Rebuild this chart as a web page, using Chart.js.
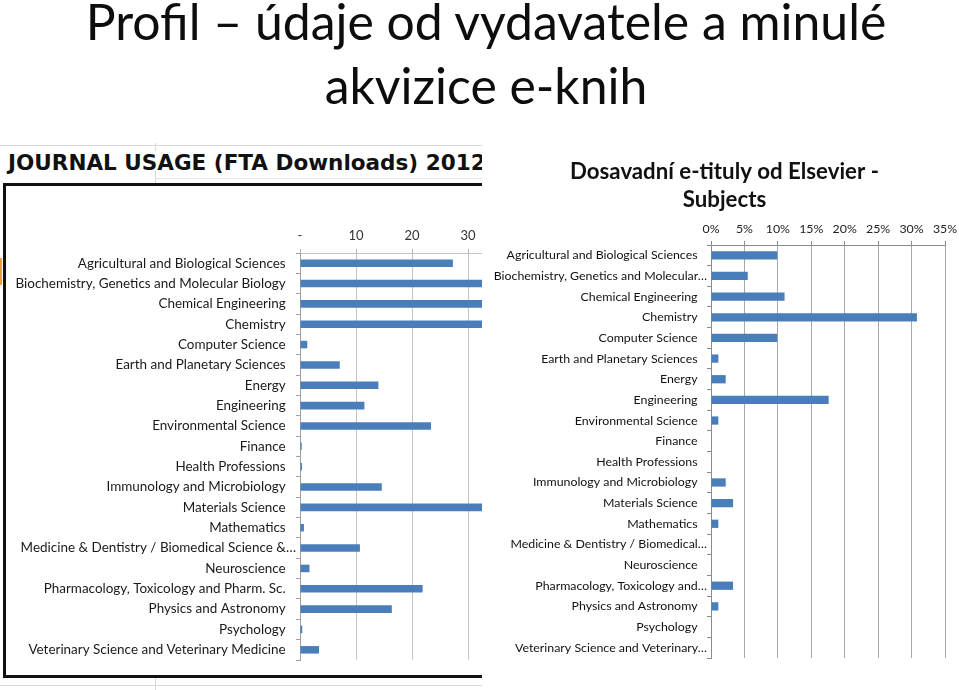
<!DOCTYPE html>
<html>
<head>
<meta charset="utf-8">
<script src="https://cdn.jsdelivr.net/npm/chart.js@4.4.1/dist/chart.umd.min.js"></script>
<style>
html, body { margin: 0; padding: 0; background: #fff; width: 959px; height: 690px; overflow: hidden; }
#slide { position: relative; width: 959px; height: 690px; overflow: hidden; }
#heading { position: absolute; left: 0; top: 0; }
#sheet { position: absolute; left: 0; top: 143px; width: 482px; height: 547px; overflow: hidden; background: #fff; }
.cell { position: absolute; background: #d9d9d9; }
#frame { position: absolute; left: 3px; top: 40px; width: 720px; height: 495px; border: 3px solid #111; box-sizing: border-box; }
#usage { position: absolute; left: 6px; top: 43px; }
#subjects { position: absolute; left: 462px; top: 150px; }
</style>
</head>
<body>
<div id="slide">
  <svg id="heading" width="959" height="120">
    <text id="h1" x="486" y="40" text-anchor="middle" font-family="Lato" fill="#0d0d0d">Profil – údaje od vydavatele a minulé</text>
    <text id="h2" x="486" y="104" text-anchor="middle" font-family="Lato" fill="#0d0d0d">akvizice e-knih</text>
  </svg>

  <div id="sheet">
    <div class="cell" style="left:0;top:2px;width:482px;height:1px"></div>
    <div class="cell" style="left:155px;top:0;width:1px;height:8px"></div>
    <div class="cell" style="left:155px;top:35px;width:327px;height:1px;background:#e6e6e6"></div>
    <div class="cell" style="left:155px;top:28px;width:1px;height:12px"></div>
    <div class="cell" style="left:0;top:542px;width:482px;height:1px"></div>
    <div class="cell" style="left:155px;top:535px;width:1px;height:12px"></div>
    <div class="cell" style="left:0;top:115px;width:2px;height:27px;background:#f0a030"></div>
    <svg style="position:absolute;left:0;top:0" width="482" height="40">
      <text id="usageTitle" x="8" y="27" font-family="DejaVu Sans" font-weight="bold" fill="#111">JOURNAL USAGE (FTA Downloads) 2012</text>
    </svg>
    <div id="frame"></div>
    <canvas id="usage" width="706" height="489"></canvas>
  </div>

  <canvas id="subjects" width="497" height="540"></canvas>
</div>

<script>
"use strict";

// categories as shown in the journal usage chart (left, screenshot)
var journalLabels = [
    "Agricultural and Biological Sciences",
    "Biochemistry, Genetics and Molecular Biology",
    "Chemical Engineering",
    "Chemistry",
    "Computer Science",
    "Earth and Planetary Sciences",
    "Energy",
    "Engineering",
    "Environmental Science",
    "Finance",
    "Health Professions",
    "Immunology and Microbiology",
    "Materials Science",
    "Mathematics",
    "Medicine & Dentistry / Biomedical Science &…",
    "Neuroscience",
    "Pharmacology, Toxicology and Pharm. Sc.",
    "Physics and Astronomy",
    "Psychology",
    "Veterinary Science and Veterinary Medicine"
];

// FTA downloads 2012 (bars past 30 are cut off in the picture, so those are guesses)
var journalDownloads = [27.3, 45, 40, 48, 1.3, 7.1, 14.0, 11.5, 23.4, 0.3,
                        0.35, 14.6, 42, 0.7, 10.7, 1.7, 21.9, 16.4, 0.4, 3.4];

// categories of the e-titles chart (right)
var subjectLabels = [
    "Agricultural and Biological Sciences",
    "Biochemistry, Genetics and Molecular…",
    "Chemical Engineering",
    "Chemistry",
    "Computer Science",
    "Earth and Planetary Sciences",
    "Energy",
    "Engineering",
    "Environmental Science",
    "Finance",
    "Health Professions",
    "Immunology and Microbiology",
    "Materials Science",
    "Mathematics",
    "Medicine & Dentistry / Biomedical…",
    "Neuroscience",
    "Pharmacology, Toxicology and…",
    "Physics and Astronomy",
    "Psychology",
    "Veterinary Science and Veterinary…"
];

// share of e-titles per subject, in %
var subjectShare = [9.9, 5.5, 11.0, 30.8, 9.9, 1.1, 2.2, 17.6, 1.1, 0,
                    0, 2.2, 3.3, 1.1, 0, 0, 3.3, 1.1, 0, 0];

var journalTicks = { max: 70, step: 10 };
var subjectTicks = { max: 35, step: 5 };

var barBlue = "#4a7ebb";

// pick a font size so that text has the given width
var measureCtx = document.createElement("canvas").getContext("2d");
function fitSize(text, weight, family, width) {
    measureCtx.font = weight + " 100px " + family;
    return 100 * width / measureCtx.measureText(text).width;
}

var headSize = fitSize("Profil – údaje od vydavatele a minulé", "normal", "Lato", 802);
document.getElementById("h1").setAttribute("font-size", headSize);
document.getElementById("h2").setAttribute("font-size", headSize);
document.getElementById("usageTitle").setAttribute("font-size",
    fitSize("JOURNAL USAGE (FTA Downloads) 2012", "bold", "DejaVu Sans", 478));

var leftLabelSize = fitSize(journalLabels[0], "normal", "Lato", 208);
var rightLabelSize = fitSize(subjectLabels[0], "normal", "Lato", 191);
var titleSize = fitSize("Dosavadní e-tituly od Elsevier -", "bold", "Lato", 309);

Chart.defaults.font.family = "Lato";
Chart.defaults.animation = false;

// fixed axis box sizes so the plot areas land where they are in the picture
function fixBox(w, h) {
    return function(scale) {
        if (w !== null) scale.width = w;
        if (h !== null) scale.height = h;
        scale.paddingLeft = 0;
        scale.paddingRight = 0;
        scale.paddingTop = 0;
        scale.paddingBottom = 0;
    };
}

// Excel lets the "…" labels run up to the axis, the others stop a bit short
function excelLabel(value, index) {
    var label = this.getLabelForValue(value);
    return label.endsWith("…") ? label : label + "   ";
}

// let long y labels spill left of the axis box instead of being clipped
var noLabelClip = {
    id: "noLabelClip",
    afterLayout: function(chart) {
        chart.scales.y.left = 0;
    }
};

new Chart(document.getElementById("usage"), {
    type: "bar",
    data: {
        labels: journalLabels,
        datasets: [{
            data: journalDownloads,
            backgroundColor: barBlue,
            borderWidth: 0,
            barPercentage: 0.37,
            categoryPercentage: 1
        }]
    },
    options: {
        indexAxis: "y",
        responsive: false,
        devicePixelRatio: 1,
        layout: { padding: { left: 0, top: 0, right: 20, bottom: 15 } },
        plugins: {
            legend: { display: false },
            tooltip: { enabled: false }
        },
        scales: {
            x: {
                position: "top",
                min: 0,
                max: journalTicks.max,
                afterFit: fixBox(null, 67),
                ticks: {
                    stepSize: journalTicks.step,
                    padding: 5,
                    color: "#333",
                    font: { size: 13 },
                    callback: function(v) { return v === 0 ? "-" : v; }
                },
                grid: { display: true, drawOnChartArea: true, drawTicks: true, lineWidth: 1, color: "#c4c4c4", tickLength: 4, tickColor: "#b0b0b0" },
                border: { display: true, width: 1, color: "#c4c4c4" }
            },
            y: {
                afterFit: fixBox(294, null),
                ticks: {
                    padding: 0,
                    color: "#1a1a1a",
                    font: { size: leftLabelSize },
                    autoSkip: false,
                    callback: excelLabel
                },
                grid: { display: true, drawOnChartArea: false, drawTicks: true, lineWidth: 1, tickLength: 4, color: "#a0a0a0" },
                border: { display: true, width: 1, color: "#a0a0a0" }
            }
        }
    }
});

new Chart(document.getElementById("subjects"), {
    type: "bar",
    data: {
        labels: subjectLabels,
        datasets: [{
            data: subjectShare,
            backgroundColor: barBlue,
            borderWidth: 0,
            barPercentage: 0.4,
            categoryPercentage: 1
        }]
    },
    options: {
        indexAxis: "y",
        responsive: false,
        devicePixelRatio: 1,
        layout: { padding: { left: 42, top: 0, right: 14, bottom: 32 } },
        plugins: {
            legend: { display: false },
            tooltip: { enabled: false },
            title: {
                display: true,
                text: ["Dosavadní e-tituly od Elsevier -", "Subjects"],
                color: "#111",
                font: { size: titleSize, weight: "bold", lineHeight: 28 / titleSize },
                padding: { top: 8, bottom: 0 }
            }
        },
        scales: {
            x: {
                position: "top",
                min: 0,
                max: subjectTicks.max,
                afterFit: fixBox(null, 31),
                ticks: {
                    stepSize: subjectTicks.step,
                    padding: 5,
                    color: "#222",
                    font: { size: rightLabelSize },
                    callback: function(v) { return v + "%"; }
                },
                grid: { display: true, drawOnChartArea: true, drawTicks: true, lineWidth: 1, color: "#a8a8a8", tickLength: 4, tickColor: "#8c8c8c" },
                border: { display: true, width: 1, color: "#8c8c8c" }
            },
            y: {
                afterFit: fixBox(207, null),
                ticks: {
                    padding: 0,
                    color: "#111",
                    font: { size: rightLabelSize },
                    autoSkip: false,
                    callback: excelLabel
                },
                grid: { display: true, drawOnChartArea: false, drawTicks: true, lineWidth: 1, tickLength: 4, color: "#8c8c8c" },
                border: { display: true, width: 1, color: "#8c8c8c" }
            }
        }
    },
    plugins: [noLabelClip]
});
</script>
</body>
</html>
